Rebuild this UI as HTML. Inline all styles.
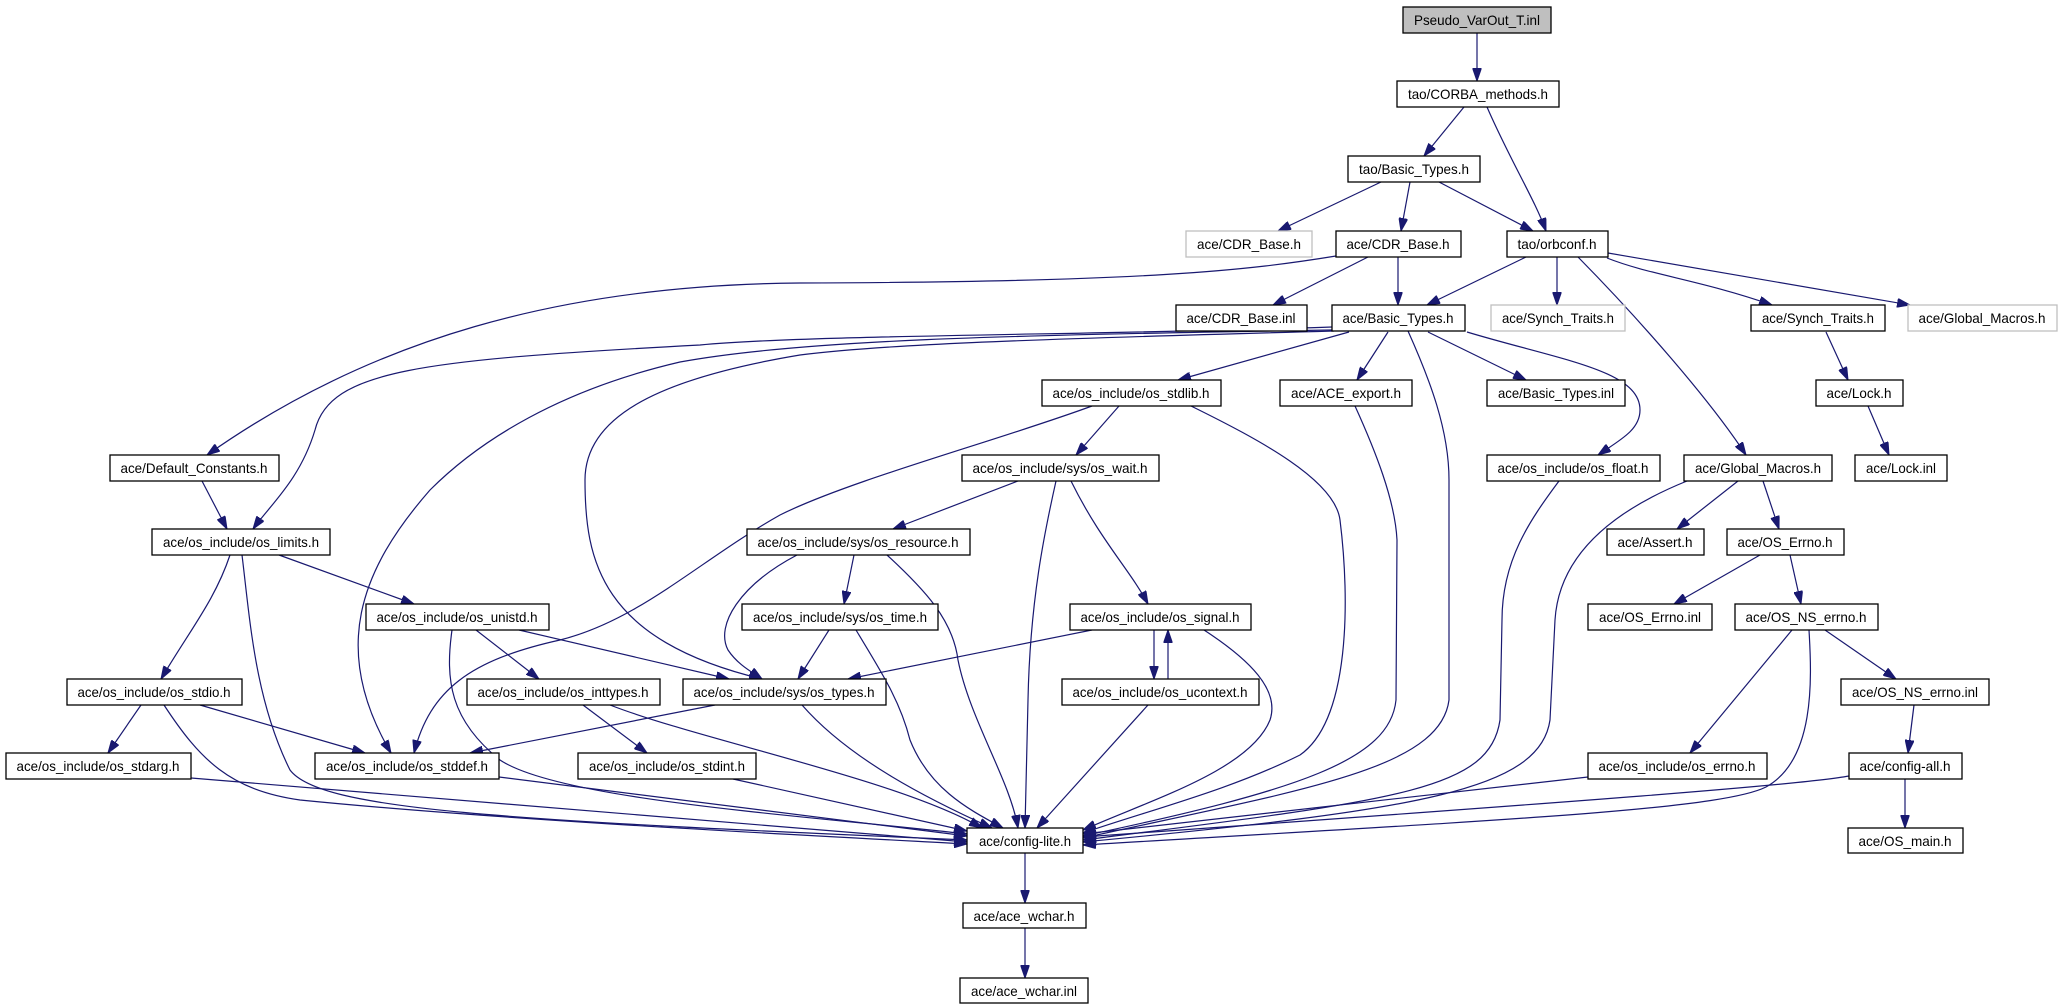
<!DOCTYPE html>
<html><head><meta charset="utf-8"><style>
html,body{margin:0;padding:0;background:#fff;}
svg{display:block;}
text{font-family:"Liberation Sans",sans-serif;font-size:14px;fill:#000;}
.e{fill:none;stroke:#191970;stroke-width:1.2;marker-end:url(#a);}
.n{fill:#fff;stroke:#000;stroke-width:1.3;}
.g{fill:#fff;stroke:#bfbfbf;stroke-width:1.3;}
</style></head><body>
<svg width="2059" height="1008" viewBox="0 0 2059 1008" xmlns="http://www.w3.org/2000/svg">
<defs><marker id="a" markerWidth="13" markerHeight="9" refX="13" refY="4.5" orient="auto" markerUnits="userSpaceOnUse"><path d="M0,0 L13,4.5 L0,9 z" fill="#191970" stroke="#191970"/></marker></defs>
<g>
<path class="e" d="M1477,33 L1477,81"/>
<path class="e" d="M1464,107 L1424,156"/>
<path class="e" d="M1487,107 C1510,160 1535,200 1546,231"/>
<path class="e" d="M1381,182 L1278,231"/>
<path class="e" d="M1410,182 L1401,231"/>
<path class="e" d="M1439,182 L1533,231"/>
<path class="e" d="M1368,257 L1273,305"/>
<path class="e" d="M1398,257 L1398,305"/>
<path class="e" d="M1336,256 C1250,270 1150,282 800,283 C560,285 370,340 207,455"/>
<path class="e" d="M1526,257 L1427,305"/>
<path class="e" d="M1557,257 L1557,305"/>
<path class="e" d="M1607,258 C1650,275 1700,280 1772,305"/>
<path class="e" d="M1608,253 L1910,305"/>
<path class="e" d="M1578,257 C1640,320 1710,400 1746,455"/>
<path class="e" d="M1332,327 C1100,335 800,335 700,345 C420,360 330,370 315,430 C300,480 270,505 253,529"/>
<path class="e" d="M1332,330 C1000,335 800,340 680,362 C560,390 480,440 430,490 C360,570 330,650 391,753"/>
<path class="e" d="M1334,331 C1000,340 880,345 800,355 C650,380 585,420 585,480 C585,560 600,640 762,679"/>
<path class="e" d="M1349,332 L1178,380"/>
<path class="e" d="M1388,332 L1357,380"/>
<path class="e" d="M1428,332 L1526,380"/>
<path class="e" d="M1467,332 C1560,360 1640,370 1640,410 C1640,430 1620,440 1598,455"/>
<path class="e" d="M1408,331 C1430,380 1449,430 1449,480 L1449,700 C1440,770 1300,790 1083,838"/>
<path class="e" d="M1826,332 L1848,380"/>
<path class="e" d="M1868,406 L1889,455"/>
<path class="e" d="M202,481 L227,529"/>
<path class="e" d="M1119,406 L1076,455"/>
<path class="e" d="M1092,406 C1000,440 850,480 780,515 C700,560 640,620 560,640 C470,660 430,690 414,753"/>
<path class="e" d="M1191,406 C1260,440 1335,480 1340,520 C1350,600 1350,720 1300,755 C1230,790 1150,810 1083,833"/>
<path class="e" d="M1355,406 C1375,450 1395,500 1397,540 L1396,700 C1390,760 1300,790 1083,836"/>
<path class="e" d="M1559,481 C1530,520 1502,560 1502,620 L1500,720 C1490,790 1400,800 1083,840"/>
<path class="e" d="M1687,481 C1640,500 1560,540 1555,620 L1550,720 C1540,790 1420,810 1083,842"/>
<path class="e" d="M1738,481 L1677,529"/>
<path class="e" d="M1763,481 L1779,529"/>
<path class="e" d="M1018,481 L893,529"/>
<path class="e" d="M1071,481 C1100,540 1130,570 1148,604"/>
<path class="e" d="M1056,481 C1045,530 1030,600 1028,700 L1025,828"/>
<path class="e" d="M279,555 L414,604"/>
<path class="e" d="M230,555 C215,600 190,630 161,679"/>
<path class="e" d="M242,555 C250,620 255,700 290,770 C320,810 500,820 967,840"/>
<path class="e" d="M854,555 L844,604"/>
<path class="e" d="M797,555 C740,585 715,625 728,650 C738,665 752,672 762,679"/>
<path class="e" d="M887,555 C925,590 953,620 958,660 C970,720 1010,780 1018,828"/>
<path class="e" d="M1760,555 L1674,604"/>
<path class="e" d="M1790,555 L1801,604"/>
<path class="e" d="M476,630 L539,679"/>
<path class="e" d="M519,630 L729,679"/>
<path class="e" d="M452,630 C445,680 450,720 500,760 C560,800 800,815 967,834"/>
<path class="e" d="M829,630 L798,679"/>
<path class="e" d="M856,630 C880,670 900,700 910,740 C930,790 970,810 1003,828"/>
<path class="e" d="M1092,630 L848,679"/>
<path class="e" d="M1154,630 L1154,679"/>
<path class="e" d="M1168,679 L1168,630"/>
<path class="e" d="M1204,630 C1250,660 1280,690 1270,720 C1250,770 1150,800 1083,830"/>
<path class="e" d="M1148,705 L1037,828"/>
<path class="e" d="M1792,630 L1690,753"/>
<path class="e" d="M1825,630 L1896,679"/>
<path class="e" d="M1809,630 C1812,680 1815,760 1766,787 C1720,810 1500,820 1083,845"/>
<path class="e" d="M1914,705 L1908,753"/>
<path class="e" d="M141,705 L108,753"/>
<path class="e" d="M200,705 L365,753"/>
<path class="e" d="M164,705 C200,760 230,790 300,800 C500,820 800,835 967,844"/>
<path class="e" d="M583,705 L647,753"/>
<path class="e" d="M610,705 C700,740 900,780 982,828"/>
<path class="e" d="M715,705 L470,753"/>
<path class="e" d="M802,705 C850,760 930,800 992,828"/>
<path class="e" d="M191,778 L967,842"/>
<path class="e" d="M499,777 L967,836"/>
<path class="e" d="M733,779 L967,831"/>
<path class="e" d="M1588,777 L1083,834"/>
<path class="e" d="M1849,776 C1800,785 1600,800 1083,837"/>
<path class="e" d="M1905,779 L1905,828"/>
<path class="e" d="M1025,853 L1025,903"/>
<path class="e" d="M1025,928 L1025,978"/>
</g>
<g>
<rect x="1403" y="7" width="148" height="26" fill="#bfbfbf" stroke="#000" stroke-width="1.3"/><text x="1477" y="25" text-anchor="middle" textLength="126" lengthAdjust="spacingAndGlyphs">Pseudo_VarOut_T.inl</text>
<rect class="n" x="1397" y="81" width="162" height="26"/><text x="1478" y="99" text-anchor="middle" textLength="140" lengthAdjust="spacingAndGlyphs">tao/CORBA_methods.h</text>
<rect class="n" x="1348" y="156" width="132" height="26"/><text x="1414" y="174" text-anchor="middle" textLength="110" lengthAdjust="spacingAndGlyphs">tao/Basic_Types.h</text>
<rect class="g" x="1186" y="231" width="126" height="26"/><text x="1249" y="249" text-anchor="middle" textLength="104" lengthAdjust="spacingAndGlyphs">ace/CDR_Base.h</text>
<rect class="n" x="1336" y="231" width="125" height="26"/><text x="1398" y="249" text-anchor="middle" textLength="103" lengthAdjust="spacingAndGlyphs">ace/CDR_Base.h</text>
<rect class="n" x="1507" y="231" width="101" height="26"/><text x="1557" y="249" text-anchor="middle" textLength="79" lengthAdjust="spacingAndGlyphs">tao/orbconf.h</text>
<rect class="n" x="1176" y="305" width="131" height="26"/><text x="1241" y="323" text-anchor="middle" textLength="109" lengthAdjust="spacingAndGlyphs">ace/CDR_Base.inl</text>
<rect class="n" x="1332" y="305" width="133" height="26"/><text x="1398" y="323" text-anchor="middle" textLength="111" lengthAdjust="spacingAndGlyphs">ace/Basic_Types.h</text>
<rect class="g" x="1491" y="305" width="134" height="26"/><text x="1558" y="323" text-anchor="middle" textLength="112" lengthAdjust="spacingAndGlyphs">ace/Synch_Traits.h</text>
<rect class="n" x="1751" y="305" width="134" height="26"/><text x="1818" y="323" text-anchor="middle" textLength="112" lengthAdjust="spacingAndGlyphs">ace/Synch_Traits.h</text>
<rect class="g" x="1908" y="305" width="149" height="26"/><text x="1982" y="323" text-anchor="middle" textLength="127" lengthAdjust="spacingAndGlyphs">ace/Global_Macros.h</text>
<rect class="n" x="1042" y="380" width="179" height="26"/><text x="1131" y="398" text-anchor="middle" textLength="157" lengthAdjust="spacingAndGlyphs">ace/os_include/os_stdlib.h</text>
<rect class="n" x="1280" y="380" width="132" height="26"/><text x="1346" y="398" text-anchor="middle" textLength="110" lengthAdjust="spacingAndGlyphs">ace/ACE_export.h</text>
<rect class="n" x="1487" y="380" width="138" height="26"/><text x="1556" y="398" text-anchor="middle" textLength="116" lengthAdjust="spacingAndGlyphs">ace/Basic_Types.inl</text>
<rect class="n" x="1816" y="380" width="87" height="26"/><text x="1859" y="398" text-anchor="middle" textLength="65" lengthAdjust="spacingAndGlyphs">ace/Lock.h</text>
<rect class="n" x="110" y="455" width="169" height="26"/><text x="194" y="473" text-anchor="middle" textLength="147" lengthAdjust="spacingAndGlyphs">ace/Default_Constants.h</text>
<rect class="n" x="962" y="455" width="197" height="26"/><text x="1060" y="473" text-anchor="middle" textLength="175" lengthAdjust="spacingAndGlyphs">ace/os_include/sys/os_wait.h</text>
<rect class="n" x="1487" y="455" width="173" height="26"/><text x="1573" y="473" text-anchor="middle" textLength="151" lengthAdjust="spacingAndGlyphs">ace/os_include/os_float.h</text>
<rect class="n" x="1684" y="455" width="148" height="26"/><text x="1758" y="473" text-anchor="middle" textLength="126" lengthAdjust="spacingAndGlyphs">ace/Global_Macros.h</text>
<rect class="n" x="1855" y="455" width="92" height="26"/><text x="1901" y="473" text-anchor="middle" textLength="70" lengthAdjust="spacingAndGlyphs">ace/Lock.inl</text>
<rect class="n" x="152" y="529" width="178" height="26"/><text x="241" y="547" text-anchor="middle" textLength="156" lengthAdjust="spacingAndGlyphs">ace/os_include/os_limits.h</text>
<rect class="n" x="747" y="529" width="223" height="26"/><text x="858" y="547" text-anchor="middle" textLength="201" lengthAdjust="spacingAndGlyphs">ace/os_include/sys/os_resource.h</text>
<rect class="n" x="1607" y="529" width="97" height="26"/><text x="1655" y="547" text-anchor="middle" textLength="75" lengthAdjust="spacingAndGlyphs">ace/Assert.h</text>
<rect class="n" x="1727" y="529" width="117" height="26"/><text x="1785" y="547" text-anchor="middle" textLength="95" lengthAdjust="spacingAndGlyphs">ace/OS_Errno.h</text>
<rect class="n" x="366" y="604" width="183" height="26"/><text x="457" y="622" text-anchor="middle" textLength="161" lengthAdjust="spacingAndGlyphs">ace/os_include/os_unistd.h</text>
<rect class="n" x="742" y="604" width="196" height="26"/><text x="840" y="622" text-anchor="middle" textLength="174" lengthAdjust="spacingAndGlyphs">ace/os_include/sys/os_time.h</text>
<rect class="n" x="1070" y="604" width="181" height="26"/><text x="1160" y="622" text-anchor="middle" textLength="159" lengthAdjust="spacingAndGlyphs">ace/os_include/os_signal.h</text>
<rect class="n" x="1588" y="604" width="124" height="26"/><text x="1650" y="622" text-anchor="middle" textLength="102" lengthAdjust="spacingAndGlyphs">ace/OS_Errno.inl</text>
<rect class="n" x="1735" y="604" width="143" height="26"/><text x="1806" y="622" text-anchor="middle" textLength="121" lengthAdjust="spacingAndGlyphs">ace/OS_NS_errno.h</text>
<rect class="n" x="67" y="679" width="175" height="26"/><text x="154" y="697" text-anchor="middle" textLength="153" lengthAdjust="spacingAndGlyphs">ace/os_include/os_stdio.h</text>
<rect class="n" x="467" y="679" width="193" height="26"/><text x="563" y="697" text-anchor="middle" textLength="171" lengthAdjust="spacingAndGlyphs">ace/os_include/os_inttypes.h</text>
<rect class="n" x="683" y="679" width="203" height="26"/><text x="784" y="697" text-anchor="middle" textLength="181" lengthAdjust="spacingAndGlyphs">ace/os_include/sys/os_types.h</text>
<rect class="n" x="1062" y="679" width="197" height="26"/><text x="1160" y="697" text-anchor="middle" textLength="175" lengthAdjust="spacingAndGlyphs">ace/os_include/os_ucontext.h</text>
<rect class="n" x="1841" y="679" width="148" height="26"/><text x="1915" y="697" text-anchor="middle" textLength="126" lengthAdjust="spacingAndGlyphs">ace/OS_NS_errno.inl</text>
<rect class="n" x="6" y="753" width="185" height="26"/><text x="98" y="771" text-anchor="middle" textLength="163" lengthAdjust="spacingAndGlyphs">ace/os_include/os_stdarg.h</text>
<rect class="n" x="315" y="753" width="184" height="26"/><text x="407" y="771" text-anchor="middle" textLength="162" lengthAdjust="spacingAndGlyphs">ace/os_include/os_stddef.h</text>
<rect class="n" x="578" y="753" width="178" height="26"/><text x="667" y="771" text-anchor="middle" textLength="156" lengthAdjust="spacingAndGlyphs">ace/os_include/os_stdint.h</text>
<rect class="n" x="1588" y="753" width="179" height="26"/><text x="1677" y="771" text-anchor="middle" textLength="157" lengthAdjust="spacingAndGlyphs">ace/os_include/os_errno.h</text>
<rect class="n" x="1849" y="753" width="113" height="26"/><text x="1905" y="771" text-anchor="middle" textLength="91" lengthAdjust="spacingAndGlyphs">ace/config-all.h</text>
<rect class="n" x="967" y="828" width="116" height="25"/><text x="1025" y="846" text-anchor="middle" textLength="92" lengthAdjust="spacingAndGlyphs">ace/config-lite.h</text>
<rect class="n" x="1848" y="828" width="115" height="25"/><text x="1905" y="846" text-anchor="middle" textLength="93" lengthAdjust="spacingAndGlyphs">ace/OS_main.h</text>
<rect class="n" x="963" y="903" width="123" height="25"/><text x="1024" y="921" text-anchor="middle" textLength="101" lengthAdjust="spacingAndGlyphs">ace/ace_wchar.h</text>
<rect class="n" x="960" y="978" width="128" height="25"/><text x="1024" y="996" text-anchor="middle" textLength="106" lengthAdjust="spacingAndGlyphs">ace/ace_wchar.inl</text>
</g>
</svg>
</body></html>
